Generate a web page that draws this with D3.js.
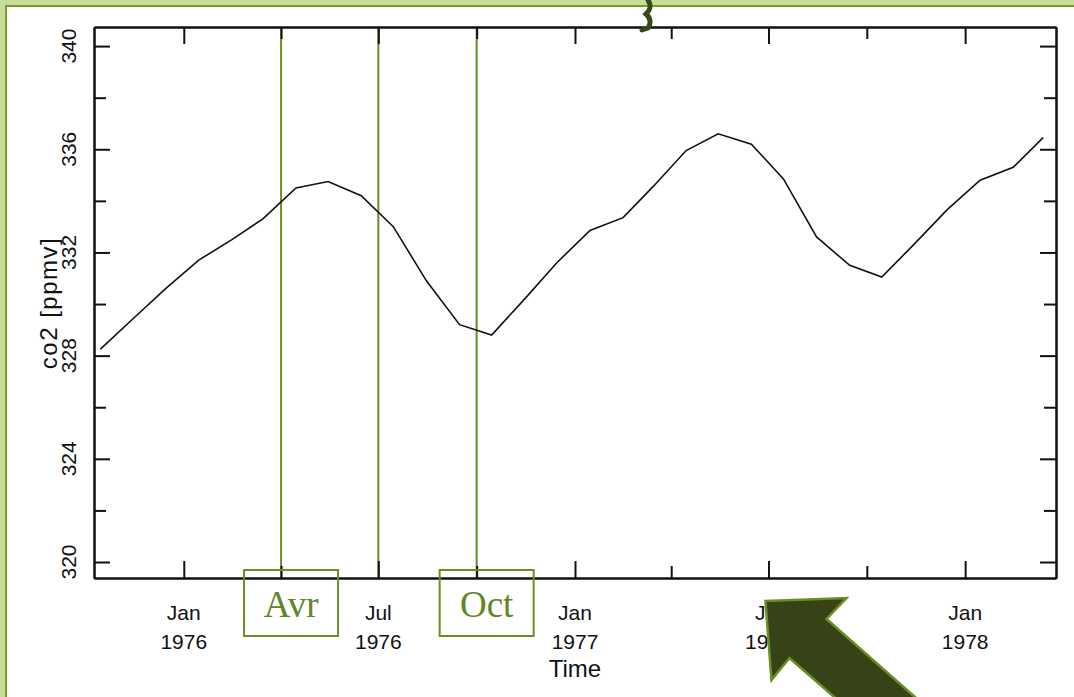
<!DOCTYPE html>
<html>
<head>
<meta charset="utf-8">
<script src="https://cdn.jsdelivr.net/npm/d3@7"></script>
<style>
  body { margin: 0; background: #fff; }
  svg { display: block; }
</style>
</head>
<body>
<script>
// co2-timeseries.js
const width = 1074;
const height = 697;

// monthly means, mid-month
const months = [
  "1975-10-15", "1975-11-15", "1975-12-15",
  "1976-01-15", "1976-02-15", "1976-03-15", "1976-04-15", "1976-05-15", "1976-06-15",
  "1976-07-15", "1976-08-15", "1976-09-15", "1976-10-15", "1976-11-15", "1976-12-15",
  "1977-01-15", "1977-02-15", "1977-03-15", "1977-04-15", "1977-05-15", "1977-06-15",
  "1977-07-15", "1977-08-15", "1977-09-15", "1977-10-15", "1977-11-15", "1977-12-15",
  "1978-01-15", "1978-02-15", "1978-03-15"
];
const co2 = [
  328.25, 329.45, 330.6,
  331.7, 332.5, 333.3, 334.5, 334.75, 334.2,
  333.0, 330.9, 329.2, 328.8, 330.2, 331.6,
  332.85, 333.35, 334.55, 335.95, 336.6, 336.2,
  334.85, 332.6, 331.5, 331.05, 332.35, 333.65,
  334.8, 335.3, 336.45
];

const xMajor = ["1976-01-01", "1976-07-01", "1977-01-01", "1977-07-01", "1978-01-01"];
const xMinor = ["1976-04-01", "1976-10-01", "1977-04-01", "1977-10-01"];
const monthLabels = ["Jan", "Jul", "Jan", "Jul", "Jan"];
const yearLabels = ["1976", "1976", "1977", "1977", "1978"];
const yMajor = [320, 324, 328, 332, 336, 340];
const yMinor = [322, 326, 330, 334, 338];

// annotations drawn on top of the plot
const markerDates = ["1976-04-01", "1976-07-01", "1976-10-01"];
const boxDates = ["1976-04-01", "1976-10-01"];
const boxTexts = ["Avr", "Oct"];
const arrowDate = "1977-07-01";

const parse = d3.timeParse("%Y-%m-%d");
const data = months.map((m, i) => ({date: parse(m), value: co2[i]}));

const plot = {left: 94, right: 1056, top: 27, bottom: 578};

const x = d3.scaleTime()
  .domain([parse("1975-10-09"), parse("1978-03-27")])
  .range([plot.left, plot.right]);

const y = d3.scaleLinear()
  .domain([319.38, 340.74])
  .range([plot.bottom, plot.top]);

const green = "#6b8e23";
const ink = "#111";

const svg = d3.select("body").append("svg")
  .attr("width", width)
  .attr("height", height);

// slide frame: light green border on the left and top
svg.append("rect").attr("width", width).attr("height", height).attr("fill", "#c6de96");
svg.append("rect").attr("x", 7).attr("y", 7)
  .attr("width", width - 7).attr("height", height - 7).attr("fill", "#fff");
svg.append("path")
  .attr("d", `M6,${height} V6 H${width}`)
  .attr("fill", "none").attr("stroke", "#7a9a3a").attr("stroke-width", 2);

// green month markers
svg.append("g").selectAll("line")
  .data(markerDates)
  .enter().append("line")
  .attr("x1", d => x(parse(d))).attr("x2", d => x(parse(d)))
  .attr("y1", plot.top).attr("y2", plot.bottom)
  .attr("stroke", green).attr("stroke-width", 2);

// axes: ticks point inward on all four sides
function styleAxis(g) {
  g.selectAll("path, line").attr("stroke", ink).attr("stroke-width", 2);
  g.selectAll("text").remove();
}

const axes = [
  [d3.axisBottom(x).tickValues(xMajor.map(parse)).tickSize(-17), `translate(0,${plot.bottom})`],
  [d3.axisBottom(x).tickValues(xMinor.map(parse)).tickSize(-12), `translate(0,${plot.bottom})`],
  [d3.axisTop(x).tickValues(xMajor.map(parse)).tickSize(-17), `translate(0,${plot.top})`],
  [d3.axisTop(x).tickValues(xMinor.map(parse)).tickSize(-12), `translate(0,${plot.top})`],
  [d3.axisLeft(y).tickValues(yMajor).tickSize(-16), `translate(${plot.left},0)`],
  [d3.axisLeft(y).tickValues(yMinor).tickSize(-12), `translate(${plot.left},0)`],
  [d3.axisRight(y).tickValues(yMajor).tickSize(-16), `translate(${plot.right},0)`],
  [d3.axisRight(y).tickValues(yMinor).tickSize(-12), `translate(${plot.right},0)`]
];
axes.forEach(([axis, t]) => {
  svg.append("g")
    .attr("transform", t)
    .call(axis.tickSizeOuter(0).tickFormat(""))
    .call(styleAxis);
});

// the co2 curve
svg.append("path")
  .datum(data)
  .attr("fill", "none")
  .attr("stroke", ink)
  .attr("stroke-width", 1.6)
  .attr("d", d3.line().x(d => x(d.date)).y(d => y(d.value)));

const font = "'Liberation Sans', Arial, sans-serif";

// y tick labels, rotated
svg.append("g").selectAll("text")
  .data(yMajor)
  .enter().append("text")
  .attr("transform", d => `translate(76,${y(d)}) rotate(-90)`)
  .attr("text-anchor", "middle")
  .style("font", `21px ${font}`)
  .attr("fill", ink)
  .text(d => d);

svg.append("text")
  .attr("transform", "translate(57,303) rotate(-90)")
  .attr("text-anchor", "middle")
  .style("font", `24px ${font}`)
  .style("letter-spacing", "1.5px")
  .attr("fill", ink)
  .text("co2 [ppmv]");

// x tick labels, two lines
const xl = svg.append("g").selectAll("g")
  .data(xMajor)
  .enter().append("g")
  .attr("transform", d => `translate(${x(parse(d))},0)`)
  .attr("text-anchor", "middle")
  .style("font", `21px ${font}`)
  .attr("fill", ink);
xl.append("text").attr("y", 620).text((d, i) => monthLabels[i]);
xl.append("text").attr("y", 649).text((d, i) => yearLabels[i]);

svg.append("text")
  .attr("x", (plot.left + plot.right) / 2)
  .attr("y", 677)
  .attr("text-anchor", "middle")
  .style("font", `24px ${font}`)
  .attr("fill", ink)
  .text("Time");

// boxed month names
const box = svg.append("g").selectAll("g")
  .data(boxDates)
  .enter().append("g")
  .attr("transform", d => `translate(${x(parse(d)) + 10},0)`);
box.append("rect")
  .attr("x", -47).attr("y", 570)
  .attr("width", 94).attr("height", 66)
  .attr("fill", "none").attr("stroke", green).attr("stroke-width", 2);
box.append("text")
  .attr("y", 617)
  .attr("text-anchor", "middle")
  .style("font", "37px 'Liberation Serif', 'Times New Roman', serif")
  .attr("fill", "#628527")
  .text((d, i) => boxTexts[i]);

// big arrow pointing at Jul 1977
const tx = x(parse(arrowDate)) - 3, ty = 601;
const arrowPts = [[0, 0], [81, -3], [61, 18], [221, 159], [141, 159], [24, 57], [6, 79]];
svg.append("polygon")
  .attr("points", arrowPts.map(p => [tx + p[0], ty + p[1]].join(",")).join(" "))
  .attr("fill", "#354317")
  .attr("stroke", green)
  .attr("stroke-width", 2.5)
  .attr("stroke-linejoin", "miter");

// stray bit of a shape poking in at the top
svg.append("path")
  .attr("d", "M648,0 C652,6 650,10 646,14 C651,18 651,24 648,28 L642,30")
  .attr("fill", "none")
  .attr("stroke", "#384817")
  .attr("stroke-width", 5)
  .attr("stroke-linecap", "round");
</script>
</body>
</html>
